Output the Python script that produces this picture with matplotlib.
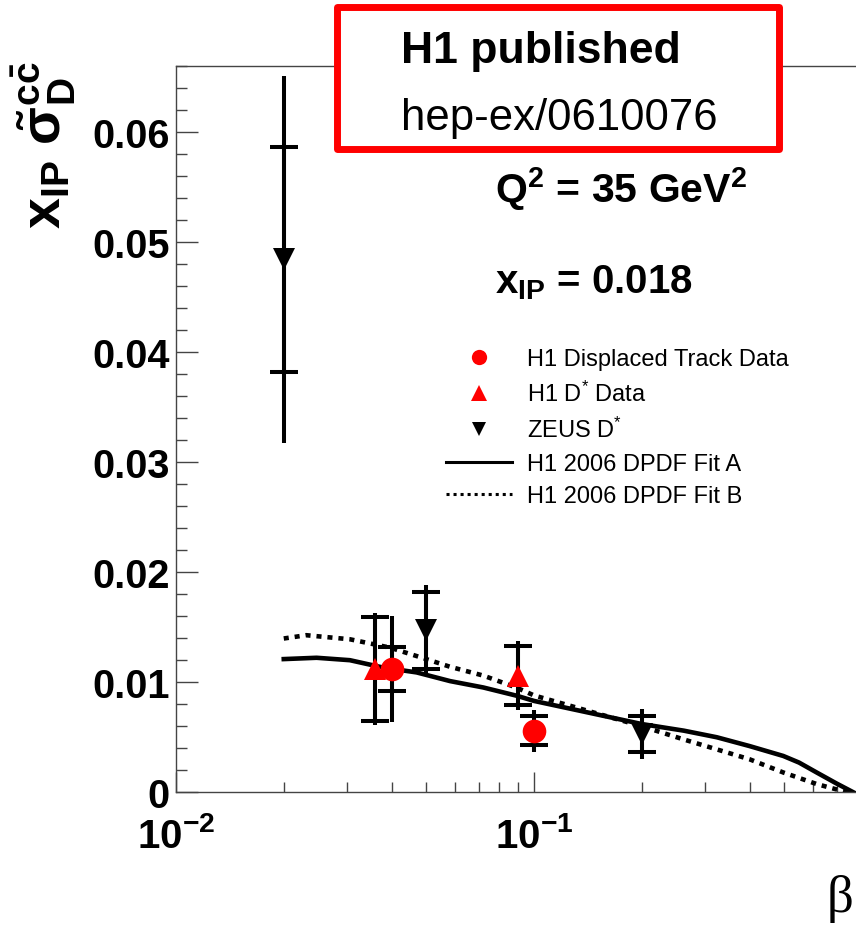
import math
import matplotlib
matplotlib.use("Agg")
import matplotlib.pyplot as plt
from matplotlib import ticker, font_manager
from matplotlib.lines import Line2D
from matplotlib.patches import Rectangle

plt.rcParams["font.family"] = ["Liberation Sans", "DejaVu Sans"]
plt.rcParams["mathtext.fontset"] = "custom"
plt.rcParams["mathtext.rm"] = "Liberation Sans"
plt.rcParams["mathtext.it"] = "Liberation Sans:italic"
plt.rcParams["mathtext.bf"] = "Liberation Sans:bold"
plt.rcParams["mathtext.sf"] = "Liberation Sans"

# ---- measurements: reduced diffractive charm cross section at Q^2 = 35 GeV^2, x_IP = 0.018
zeus_beta = [0.02, 0.05, 0.2]
zeus_val = [0.0484, 0.0147, 0.0053]
zeus_stat = [0.0102, 0.0035, 0.0016]
zeus_tot = [0.0167, 0.0041, 0.0023]

h1dstar_beta = [0.036, 0.09]
h1dstar_val = [0.0112, 0.0106]
h1dstar_stat = [0.0047, 0.0027]
h1dstar_tot = [0.0051, 0.0031]

h1track_beta = [0.04, 0.1]
h1track_val = [0.0112, 0.0056]
h1track_stat = [0.0020, 0.0013]
h1track_tot = [0.0048, 0.0019]

# ---- H1 2006 DPDF predictions
fitA_beta = [0.02, 0.0247, 0.0306, 0.0379, 0.047, 0.0583, 0.0722, 0.0895, 0.1,
             0.2, 0.262, 0.324, 0.40, 0.497, 0.55, 0.616, 0.70, 0.78]
fitA_val = [0.0121, 0.01222, 0.0120, 0.01133, 0.01089, 0.0101, 0.00952, 0.00877, 0.0083,
            0.0062, 0.0056, 0.0050, 0.0042, 0.0033, 0.0027, 0.0018, 0.0008, 0.0]

fitB_beta = [0.02, 0.0231, 0.0306, 0.0395, 0.05, 0.0583, 0.0722, 0.0895, 0.1,
             0.2, 0.262, 0.324, 0.40, 0.497, 0.616, 0.73, 0.78]
fitB_val = [0.01397, 0.01427, 0.0139, 0.01315, 0.0121, 0.0114, 0.0106, 0.0095, 0.0088,
            0.0060, 0.0048, 0.0039, 0.0030, 0.0018, 0.00075, 0.0001, 0.0]

legend_labels = ["H1 Displaced Track Data", r"H1 D$^{*}$ Data", r"ZEUS D$^{*}$",
                 "H1 2006 DPDF Fit A", "H1 2006 DPDF Fit B"]

W, H = 856, 929
fig = plt.figure(figsize=(W / 100, H / 100), dpi=100)


def fx(x):
    return x / W


def fy(y):
    return 1 - y / H


ax = fig.add_axes([fx(176), fy(793.3), (892 - 176) / W, (793.3 - 66.7) / H])
ax.set_xscale("log")
ax.set_xlim(0.01, 1)
ax.set_ylim(0, 0.066)

axis_col = "#444444"
for sp in ax.spines.values():
    sp.set_color(axis_col)
    sp.set_linewidth(1.0)


def beta_label(v, pos):
    if v > 0.5:
        return ""
    return r"$\mathbf{10^{%d}}$" % round(math.log10(v))


ax.yaxis.set_major_locator(ticker.MultipleLocator(0.01))
ax.yaxis.set_minor_locator(ticker.MultipleLocator(0.002))
ax.yaxis.set_major_formatter(ticker.FuncFormatter(lambda v, p: "0" if abs(v) < 1e-9 else f"{v:.2f}"))
ax.xaxis.set_major_locator(ticker.LogLocator(base=10))
ax.xaxis.set_minor_locator(ticker.LogLocator(base=10, subs=range(2, 10)))
ax.xaxis.set_major_formatter(ticker.FuncFormatter(beta_label))
ax.xaxis.set_minor_formatter(ticker.NullFormatter())

ax.tick_params(which="both", direction="in", color=axis_col, width=1.0, top=False, right=False)
ax.tick_params(axis="y", which="major", length=16, pad=4.5, labelsize=28.5)
ax.tick_params(axis="y", which="minor", length=8)
ax.tick_params(axis="x", which="major", length=14.5, pad=17, labelsize=29)
ax.tick_params(axis="x", which="minor", length=7.2)
for lab in ax.get_yticklabels():
    lab.set_fontweight("bold")

# model curves
ax.plot(fitA_beta, fitA_val, color="black", lw=3.3, zorder=2)
ax.plot(fitB_beta, fitB_val, color="black", lw=3.3, linestyle=(0, (1.1, 1.3)), zorder=2)


def draw_points(beta, val, stat, tot, marker, color, ms):
    ax.errorbar(beta, val, yerr=tot, fmt="none", ecolor="black", elinewidth=2.9,
                capsize=0, zorder=3)
    ax.errorbar(beta, val, yerr=stat, fmt="none", ecolor="black", elinewidth=2.9,
                capsize=10.4, capthick=2.9, zorder=3)
    ax.plot(beta, val, linestyle="none", marker=marker, color=color, markersize=ms,
            markeredgewidth=0, zorder=4)


draw_points(zeus_beta, zeus_val, zeus_stat, zeus_tot, "v", "black", 15.5)
draw_points(h1dstar_beta, h1dstar_val, h1dstar_stat, h1dstar_tot, "^", "#ff0000", 16.5)
draw_points(h1track_beta, h1track_val, h1track_stat, h1track_tot, "o", "#ff0000", 17)

handles = [
    Line2D([], [], ls="none", marker="o", color="#ff0000", ms=11, mew=0),
    Line2D([], [], ls="none", marker="^", color="#ff0000", ms=11, mew=0),
    Line2D([], [], ls="none", marker="v", color="black", ms=10, mew=0),
    Line2D([], [], color="black", lw=2.2),
    Line2D([], [], color="black", lw=2.2, linestyle=(0, (1.0, 1.3))),
]
ax.legend(handles, legend_labels, loc="upper left",
          bbox_to_anchor=(fx(446), fy(349.5)), bbox_transform=fig.transFigure,
          frameon=False, fontsize=17, handlelength=2.8, handletextpad=0.64,
          labelspacing=0.45, borderpad=0, borderaxespad=0, numpoints=1)

# axis titles
fig.text(fx(44), fy(145), r"$\mathbf{x_{IP}}\ \mathbf{\tilde{\sigma}_{D}^{c\bar{c}}}$",
         rotation=90, ha="center", va="center", fontsize=40)
fig.text(fx(853), fy(912), "β", family=["Liberation Serif", "DejaVu Serif"],
         fontsize=38, ha="right", va="baseline")

# kinematic point
fig.text(fx(495), fy(203), r"Q$^{\mathbf{2}}$ = 35 GeV$^{\mathbf{2}}$", fontsize=29.5,
         fontweight="bold", ha="left", va="baseline")
fig.text(fx(495), fy(293), r"x$_{\mathbf{IP}}$ = 0.018", fontsize=29,
         fontweight="bold", ha="left", va="baseline")

# publication box
fig.add_artist(Rectangle((fx(337), fy(150)), (779 - 337) / W, (150 - 7.5) / H,
                         transform=fig.transFigure, facecolor="white", edgecolor="#ff0000",
                         lw=5, joinstyle="round", zorder=10))
installed = {f.name for f in font_manager.fontManager.ttflist}
if "Liberation Sans Narrow" in installed:
    fig.text(fx(401), fy(63), "H1 published", family="Liberation Sans Narrow",
             fontweight="bold", fontsize=37, ha="left", va="baseline", zorder=11)
else:
    fig.text(fx(401), fy(63), "H1 published", fontweight="bold", fontsize=32,
             ha="left", va="baseline", zorder=11)
fig.text(fx(401), fy(130), "hep-ex/0610076", fontsize=31.5, ha="left",
         va="baseline", zorder=11)

fig.savefig("out.png", dpi=100)
